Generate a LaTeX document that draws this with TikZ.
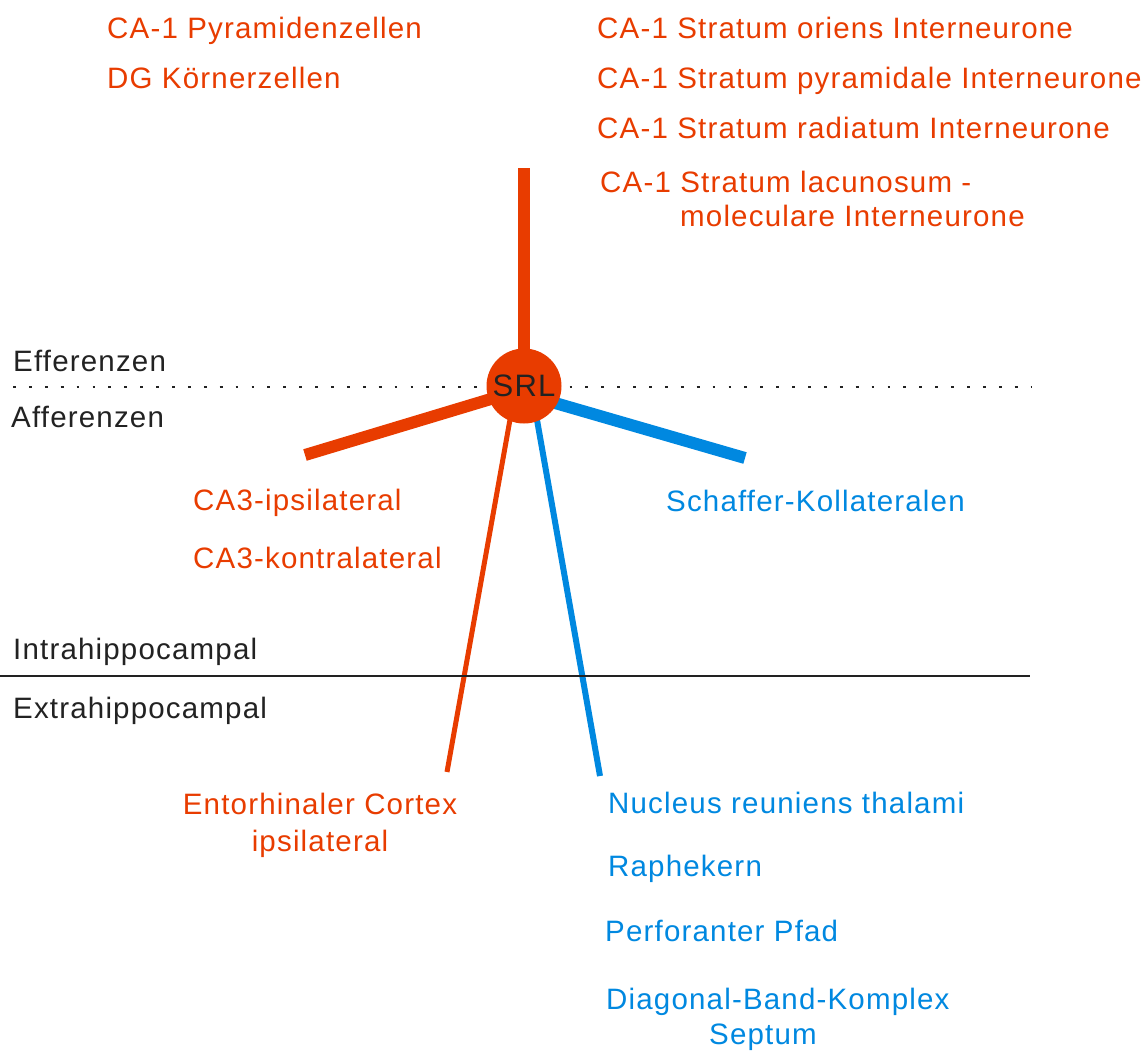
\documentclass[tikz,border=0pt]{standalone}
\usepackage{fontspec}
\setmainfont{Liberation Sans}[LetterSpace=4]
\usetikzlibrary{backgrounds}
\definecolor{srlred}{HTML}{E83C00}
\definecolor{srlblue}{HTML}{0088E0}
\definecolor{txtgray}{HTML}{222222}
\begin{document}
\begin{tikzpicture}[x=1pt,y=-1pt,
  lbl/.style={inner sep=0pt,anchor=base west,font=\fontsize{29.5}{34}\selectfont},
  redlbl/.style={lbl,text=srlred},
  bluelbl/.style={lbl,text=srlblue},
  graylbl/.style={lbl,text=txtgray},
  thick red/.style={draw=srlred,line width=12pt},
  thin red/.style={draw=srlred,line width=5pt},
  thick blue/.style={draw=srlblue,line width=12pt},
  thin blue/.style={draw=srlblue,line width=6pt}]
\useasboundingbox (0,0) rectangle (1145,1050);
% labels top
\node[redlbl] (pyr) at (107,38) {CA-1 Pyramidenzellen};
\node[redlbl] (dg) at (107,88) {DG Körnerzellen};
\node[redlbl] (ori) at (597,38) {CA-1 Stratum oriens Interneurone};
\node[redlbl] (pyrint) at (597,88) {CA-1 Stratum pyramidale Interneurone};
\node[redlbl] (rad) at (597,138) {CA-1 Stratum radiatum Interneurone};
\node[redlbl] (lac) at (600,192) {CA-1 Stratum lacunosum -};
\node[redlbl] (mol) at (680,226) {moleculare Interneurone};
% side labels
\node[graylbl] (eff) at (13,371) {Efferenzen};
\node[graylbl] (aff) at (11,427) {Afferenzen};
\node[graylbl] (intra) at (13,659) {Intrahippocampal};
\node[graylbl] (extra) at (13,718) {Extrahippocampal};
% afferent labels
\node[redlbl] (ca3i) at (193,510) {CA3-ipsilateral};
\node[redlbl] (ca3k) at (193,568) {CA3-kontralateral};
\node[bluelbl] (schaf) at (666,511) {Schaffer-Kollateralen};
\node[redlbl,anchor=base] (ent) at (320,814) {Entorhinaler Cortex};
\node[redlbl,anchor=base] (ent2) at (320,851) {ipsilateral};
\node[bluelbl] (nuc) at (608,813) {Nucleus reuniens thalami};
\node[bluelbl] (raph) at (608,876) {Raphekern};
\node[bluelbl] (perf) at (605,941) {Perforanter Pfad};
\node[bluelbl] (diag) at (606,1009) {Diagonal-Band-Komplex};
\node[bluelbl,anchor=base] (sept) at (763,1044) {Septum};
% separators
\coordinate (dotl) at (13,387);
\coordinate (dotr) at (1032,387);
\coordinate (soll) at (0,676);
\coordinate (solr) at (1030,676);
\draw[txtgray,line width=2.8pt,dash pattern=on 2.8pt off 13.1pt] (dotl) -- (dotr);
\draw[txtgray,line width=1.3pt] (soll) -- (solr);
% SRL node
\node[circle,fill=srlred,minimum width=75pt,inner sep=0pt,
      font=\fontsize{31}{34}\selectfont,text=txtgray] (srl) at (524,386) {SRL};
% connector ends
\coordinate (top) at (524,168);
\coordinate (ca3end) at (305,455);
\coordinate (schend) at (745,458);
\coordinate (entend) at (447,772);
\coordinate (nucend) at (600,776);
\begin{pgfonlayer}{background}
\draw[thick red,line cap=butt] (top) -- (srl.center);
\draw[thick red] (ca3end) -- ([yshift=-3pt]srl.center);
\draw[thick blue] (schend) -- ([yshift=-8pt]srl.center);
\draw[thin red] (entend) -- ([xshift=-8pt]srl.center);
\draw[thin blue] (nucend) -- ([xshift=7pt]srl.center);
\end{pgfonlayer}
\end{tikzpicture}
\end{document}
